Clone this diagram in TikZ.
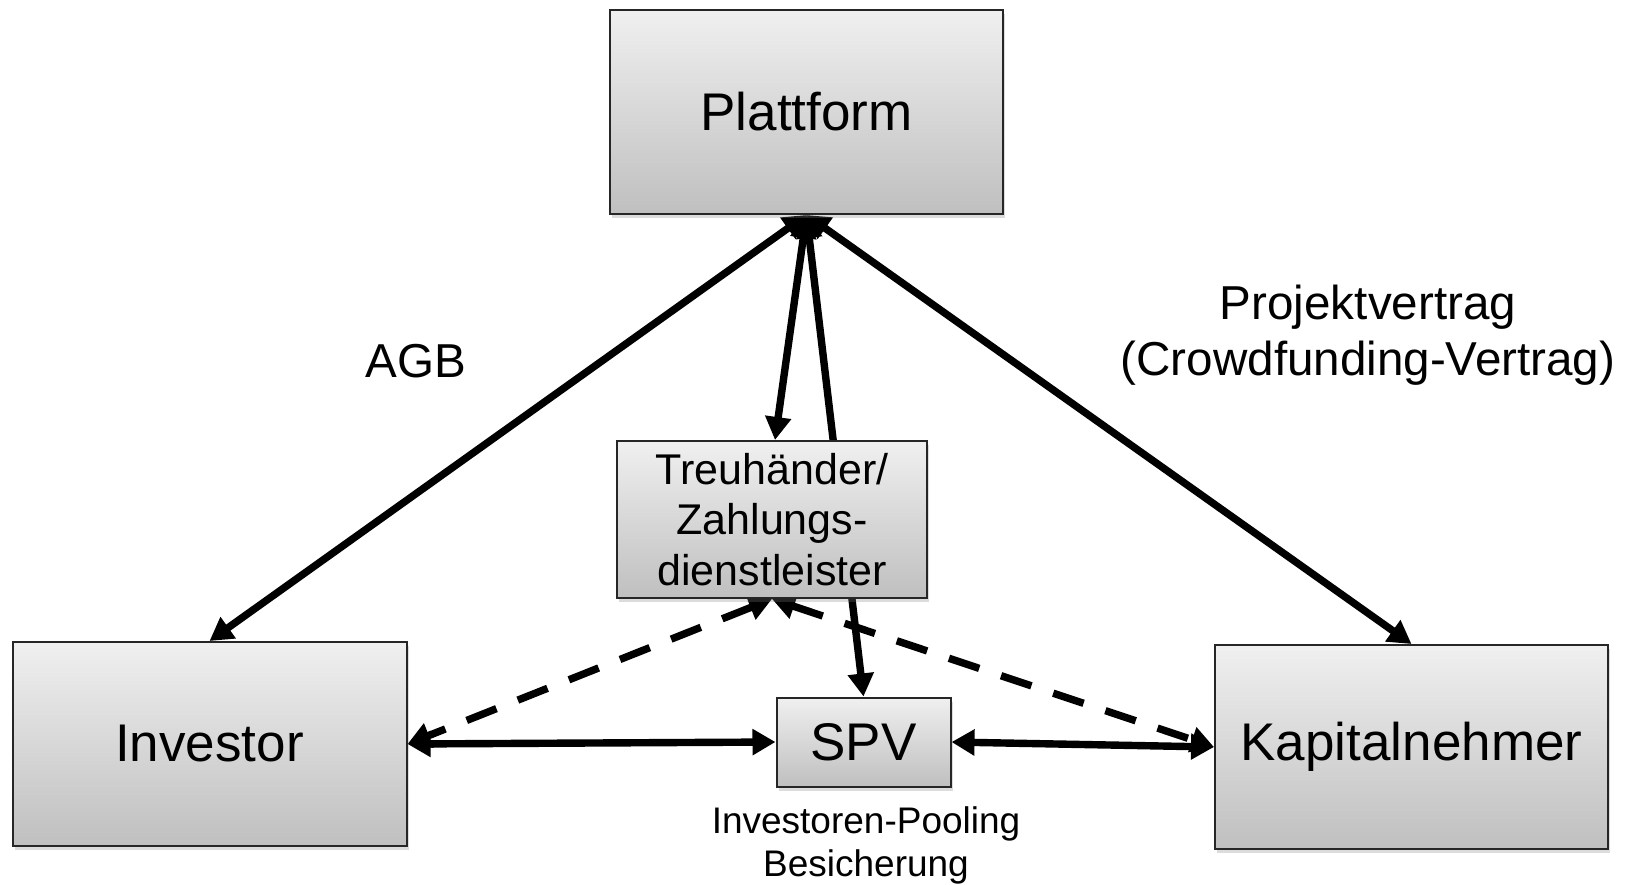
\documentclass[tikz,border=0pt]{standalone}
\usepackage{fontspec}
\setmainfont{Liberation Sans}
\usetikzlibrary{arrows.meta,shadows,backgrounds}

\tikzset{
  party/.style={draw=black!85, line width=2pt, top color=gray!12, bottom color=gray!50,
    inner sep=0pt, align=center,
    drop shadow={shadow xshift=2pt, shadow yshift=-4pt, opacity=0.28}},
  bigfont/.style={font=\fontsize{53}{60}\selectfont},
  midfont/.style={font=\fontsize{43}{50.5}\selectfont},
  labelfont/.style={font=\fontsize{47.6}{56}\selectfont},
  smallfont/.style={font=\fontsize{37}{43}\selectfont},
  head/.tip={Triangle[length=23pt,width=25pt]},
  link/.style={line width=7.4pt, draw=black},
  both/.style={link, head-head},
  dashedlink/.style={link, head-head, dash pattern=on 32pt off 23pt},
}

\begin{document}
\begin{tikzpicture}[x=1pt, y=-1pt]
  \useasboundingbox (0,0) rectangle (1632,884);

  % parties
  \node[party, bigfont, minimum width=393pt, minimum height=204pt] (plat) at (806.5,112) {Plattform};
  \node[party, midfont, minimum width=310pt, minimum height=157pt] (treu) at (772,519.5)
    {Treuhänder/\\Zahlungs-\\dienstleister};
  \node[party, bigfont, minimum width=174pt, minimum height=89pt] (spv) at (863.5,742) {SPV};
  \node[party, bigfont, minimum width=394pt, minimum height=204pt] (inv) at (209.5,744) {Investor};
  \node[party, bigfont, minimum width=393pt, minimum height=204pt] (kap) at (1411.5,747) {Kapitalnehmer};

  % contract labels
  \node[labelfont, inner sep=0pt] (agb) at (416,361) {AGB};
  \node[labelfont, align=center, inner sep=0pt] (proj) at (1368,335) {Projektvertrag\\(Crowdfunding-Vertrag)};
  \node[smallfont, align=center, inner sep=0pt] (pool) at (866,845) {Investoren-Pooling\\Besicherung};

  % relations, kept behind the boxes
  \begin{pgfonlayer}{background}
    \draw[both] (plat.south) -- (inv.north);
    \draw[both] (plat.south) -- (kap.north);
    \draw[both] (plat.south) -- ([xshift=3pt]treu.north);
    \draw[both] (plat.south) -- (spv.north);
    \draw[dashedlink] (treu.south) -- (inv.east);
    \draw[dashedlink] (treu.south) -- (kap.west);
    \draw[both] (inv.east) -- (spv.west);
    \draw[both] (spv.east) -- (kap.west);
  \end{pgfonlayer}
\end{tikzpicture}
\end{document}
